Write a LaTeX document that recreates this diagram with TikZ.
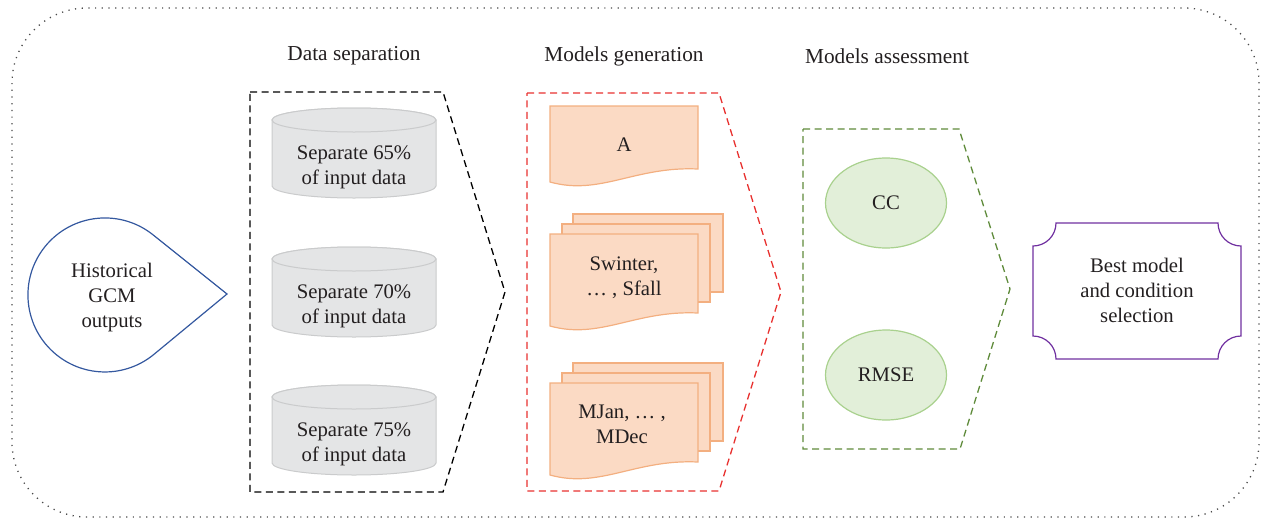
\documentclass[tikz,border=0pt]{standalone}
\usepackage{fontspec}
\setmainfont{Liberation Serif}
\definecolor{txt}{HTML}{231F20}
\definecolor{bluec}{HTML}{34589F}
\definecolor{cylfill}{HTML}{E4E5E6}
\definecolor{cyldraw}{HTML}{CACBCC}
\definecolor{peachfill}{HTML}{FBDAC4}
\definecolor{peachdraw}{HTML}{F3AF80}
\definecolor{greenfill}{HTML}{E2EFD9}
\definecolor{greendraw}{HTML}{A9D18E}
\definecolor{greendash}{HTML}{5F8B3B}
\definecolor{reddash}{HTML}{E8312F}
\definecolor{purp}{HTML}{7030A0}
\definecolor{dotc}{HTML}{4A4A4A}
\tikzset{
  lbl/.style={text=txt, font=\fontsize{20.7}{25}\selectfont, align=center, inner sep=0pt},
  title/.style={text=txt, font=\fontsize{21.3}{25}\selectfont, inner sep=0pt},
  chev/.style={line width=1.3pt, dash pattern=on 7pt off 4.5pt},
  cyl/.style={fill=cylfill, draw=cyldraw, line width=1pt},
  docst/.style={fill=peachfill, draw=peachdraw, line width=1.2pt},
  ell/.style={ellipse, fill=greenfill, draw=greendraw, line width=1.2pt, minimum width=121pt, minimum height=90pt, inner sep=0pt}
}
\usetikzlibrary{shapes.geometric}
% cylinder: #1 center x, #2 top ellipse center y, #3 bottom ellipse center y
\newcommand\mycyl[3]{%
  \path[cyl] ({#1-82},{-#2}) -- ({#1-82},{-#3}) arc[start angle=180, end angle=360, x radius=82pt, y radius=12pt] -- ({#1+82},{-#2}) arc[start angle=0, end angle=180, x radius=82pt, y radius=12pt] -- cycle;
  \path[cyl] ({#1},{-#2}) ellipse[x radius=82pt, y radius=12pt];
}
% document: #1 left x, #2 top y, #3 height at left
\newcommand\mydoc[3]{%
  \path[docst] ({#1},{-#2}) -- ({#1+148},{-#2}) -- ({#1+148},{-(#2+#3-13)})
    .. controls ({#1+85},{-(#2+#3-16)}) and ({#1+50},{-(#2+#3+14)}) .. ({#1},{-(#2+#3)}) -- cycle;
}
\newcommand\mymultidoc[3]{%
  \path[docst] ({#1+23},{-(#2-20)}) rectangle ({#1+173},{-(#2+58)});
  \path[docst] ({#1+12},{-(#2-10)}) rectangle ({#1+160},{-(#2+68)});
  \mydoc{#1}{#2}{#3}
}
\begin{document}
\begin{tikzpicture}[x=1pt,y=1pt]
\useasboundingbox (0,0) rectangle (1261,-520);
% outer dotted frame
\draw[dotc, line width=1.3pt, dash pattern=on 1.2pt off 5.5pt, rounded corners=75pt]
  (12,-8) rectangle (1259,-517);

% titles
\node[title] (t1) at (354,-56) {Data separation};
\node[title] (t2) at (624,-56) {Models generation};
\node[title] (t3) at (887,-56) {Models assessment};

% historical GCM outputs (teardrop)
\draw[bluec, line width=1.2pt] (227,-294) -- (153.5,-235.2)
  arc[start angle=50.9, end angle=309.1, radius=77pt] -- cycle;
\node[lbl] (hist) at (112,-298) {Historical\\GCM\\outputs};

% data separation chevron
\draw[chev, black] (250,-92) -- (443,-92) -- (505,-292) -- (443,-492) -- (250,-492) -- cycle;
\mycyl{354}{120}{186}
\node[lbl] (s65) at (354,-167) {Separate 65\%\\of input data};
\mycyl{354}{259}{325}
\node[lbl] (s70) at (354,-306) {Separate 70\%\\of input data};
\mycyl{354}{397}{463}
\node[lbl] (s75) at (354,-444) {Separate 75\%\\of input data};

% models generation chevron
\draw[chev, reddash] (527,-93) -- (719,-93) -- (781,-292) -- (719,-491) -- (527,-491) -- cycle;
\mydoc{550}{106}{76}
\node[lbl] (mA) at (624,-145) {A};
\mymultidoc{550}{234}{92}
\node[lbl] (mS) at (624,-278) {Swinter,\\… , Sfall};
\mymultidoc{550}{383}{92}
\node[lbl] (mM) at (622,-424) {MJan, … ,\\MDec};

% models assessment chevron
\draw[chev, greendash] (803,-129) -- (959,-129) -- (1010,-289) -- (960,-449) -- (803,-449) -- cycle;
\node[ell, lbl] (cc) at (886,-203) {CC};
\node[ell, lbl] (rmse) at (886,-375) {RMSE};

% best model box
\draw[purp, line width=1.2pt] (1056,-223) -- (1218,-223)
  arc[start angle=180, end angle=270, radius=23pt] -- (1241,-336)
  arc[start angle=90, end angle=180, radius=23pt] -- (1056,-359)
  arc[start angle=0, end angle=90, radius=23pt] -- (1033,-246)
  arc[start angle=270, end angle=360, radius=23pt] -- cycle;
\node[lbl] (best) at (1137,-290) {Best model\\and condition\\selection};
\end{tikzpicture}
\end{document}
